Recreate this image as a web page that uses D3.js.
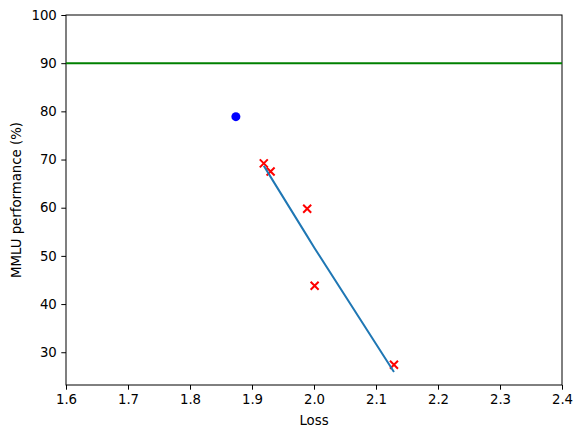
<!DOCTYPE html>
<html>
<head>
<meta charset="utf-8">
<script src="https://cdn.jsdelivr.net/npm/d3@7"></script>
<style>
  body { margin: 0; background: #fff; }
  svg text { font-family: "DejaVu Sans", sans-serif; fill: #000; }
</style>
</head>
<body>
<svg id="chart" width="582" height="438"></svg>
<script>
// values
const modelLoss = [1.919, 1.930, 1.989, 2.001, 2.129];
const modelScore = [69.2, 67.5, 59.8, 43.8, 27.4];
const fitLoss = [1.919, 1.930, 1.989, 2.001, 2.129];
const fitScore = [68.7, 66.4, 54.1, 51.6, 25.9];
const targetLoss = [1.874];
const targetScore = [78.9];
const humanLevel = 90;
const xTicks = [1.6, 1.7, 1.8, 1.9, 2.0, 2.1, 2.2, 2.3, 2.4];
const yTicks = [30, 40, 50, 60, 70, 80, 90, 100];

const svg = d3.select("#chart");
const margin = { left: 66, right: 20, top: 15, bottom: 53 };
const width = +svg.attr("width") - margin.left - margin.right,
      height = +svg.attr("height") - margin.top - margin.bottom;

const x = d3.scaleLinear().domain([1.6, 2.4]).range([0, width]);
const y = d3.scaleLinear().domain([23.2, 100]).range([height, 0]);

const g = svg.append("g").attr("transform", `translate(${margin.left},${margin.top})`);

// axes
const xAxis = g.append("g")
    .attr("transform", `translate(0,${height})`)
    .call(d3.axisBottom(x).tickValues(xTicks).tickFormat(d3.format(".1f")).tickSizeInner(4.7).tickSizeOuter(0).tickPadding(4.5));
const yAxis = g.append("g")
    .call(d3.axisLeft(y).tickValues(yTicks).tickFormat(d3.format("d")).tickSizeInner(4.7).tickSizeOuter(0).tickPadding(4.5));
[xAxis, yAxis].forEach(a => {
  a.selectAll("text").attr("font-size", 13.3).attr("font-family", "DejaVu Sans").attr("fill", "#000");
  a.selectAll("line").attr("stroke", "#000").attr("stroke-width", 1);
  a.select(".domain").remove();
});

// frame
g.append("rect")
    .attr("width", width).attr("height", height)
    .attr("fill", "none").attr("stroke", "#000").attr("stroke-width", 1);

// scatter: red crosses
const cross = 4;
g.append("g").selectAll("path")
    .data(modelLoss.map((d, i) => [d, modelScore[i]]))
    .enter().append("path")
    .attr("d", d => {
      const cx = x(d[0]), cy = y(d[1]);
      return `M${cx - cross},${cy - cross}L${cx + cross},${cy + cross}M${cx - cross},${cy + cross}L${cx + cross},${cy - cross}`;
    })
    .attr("stroke", "red").attr("stroke-width", 2).attr("fill", "none");

// blue target dot
g.append("g").selectAll("circle")
    .data(targetLoss.map((d, i) => [d, targetScore[i]]))
    .enter().append("circle")
    .attr("cx", d => x(d[0])).attr("cy", d => y(d[1]))
    .attr("r", 4.5).attr("fill", "blue");

// fit line
const line = d3.line().x(d => x(d[0])).y(d => y(d[1]));
g.append("path")
    .datum(fitLoss.map((d, i) => [d, fitScore[i]]))
    .attr("d", line)
    .attr("fill", "none").attr("stroke", "#1f77b4").attr("stroke-width", 2);

// 90% reference line
g.append("line")
    .attr("x1", 0).attr("x2", width)
    .attr("y1", y(humanLevel)).attr("y2", y(humanLevel))
    .attr("stroke", "green").attr("stroke-width", 2);

// labels
svg.append("text")
    .attr("x", margin.left + width / 2).attr("y", 425)
    .attr("text-anchor", "middle").attr("font-size", 13.3)
    .text("Loss");
svg.append("text")
    .attr("transform", `translate(21,${margin.top + height / 2}) rotate(-90)`)
    .attr("text-anchor", "middle").attr("font-size", 13.3)
    .text("MMLU performance (%)");
</script>
</body>
</html>
